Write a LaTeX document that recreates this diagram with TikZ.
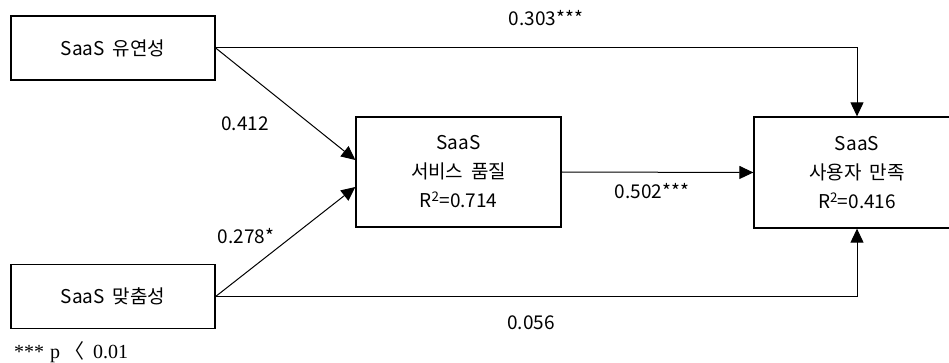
\documentclass[tikz,border=0pt]{standalone}
\usepackage{fontspec}
\setmainfont{Noto Sans CJK KR}
\newfontfamily\serifkr{Liberation Serif}
\newfontfamily\cjkkr{Noto Sans CJK KR}
\usetikzlibrary{arrows.meta,calc}
\begin{document}
\begin{tikzpicture}[x=1pt,y=-1pt,
  box/.style={draw,line width=1.3pt,align=center,inner sep=0pt,font=\fontsize{19}{29}\selectfont},
  conn/.style={line width=1pt,-{Triangle[length=14pt,width=13pt]}},
  lbl/.style={font=\fontsize{19}{22}\selectfont,inner sep=0pt}]
\useasboundingbox (0,0) rectangle (949,363);
\node[box,minimum width=204pt,minimum height=64pt] (A) at (113,48) {SaaS\hspace{0.4em}유연성};
\node[box,minimum width=204pt,minimum height=64pt] (B) at (113,296.5) {SaaS\hspace{0.4em}맞춤성};
\node[box,minimum width=205pt,minimum height=110pt] (M) at (458.5,172) {SaaS\\서비스\hspace{0.4em}품질\\R\textsuperscript{2}=0.714};
\node[box,minimum width=206pt,minimum height=111pt] (S) at (857,172.5) {SaaS\\사용자\hspace{0.4em}만족\\R\textsuperscript{2}=0.416};
\draw[conn] (A.east) -| (S.north);
\draw[conn] (B.east) -| (S.south);
\draw[conn] (M.east) -- (S.west);
\draw[conn] (A.east) -- ([yshift=12pt]M.west);
\draw[conn] (B.east) -- ([yshift=-15pt]M.west);
\node[lbl] (l1) at (546,18) {0.303***};
\node[lbl] (l2) at (245,124) {0.412};
\node[lbl] (l3) at (246,236) {0.278*};
\node[lbl] (l4) at (652,191) {0.502***};
\node[lbl] (l5) at (531,323) {0.056};
\node[anchor=west,inner sep=0pt,font=\fontsize{20}{22}\selectfont] (fn) at (14,352) {\serifkr ***\hspace{0.3em}p\hspace{0.2em}{\cjkkr 〈}\hspace{0.45em}0.01};
\end{tikzpicture}
\end{document}
